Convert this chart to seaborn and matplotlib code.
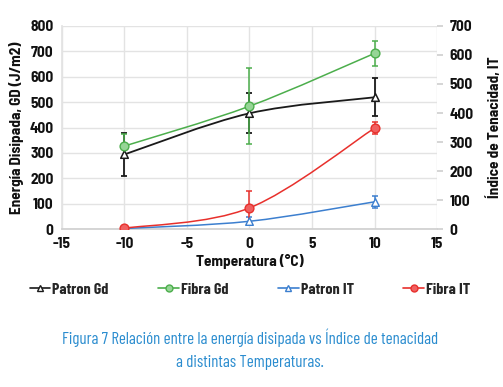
import numpy as np
import pandas as pd
import matplotlib
matplotlib.use('Agg')
import matplotlib.pyplot as plt
import seaborn as sns
from matplotlib.lines import Line2D
from matplotlib.path import Path
from matplotlib.patches import PathPatch

# Datos
temperatura = [-10, 0, 10]
patron_gd = [294, 456, 519]
patron_gd_err = [83, 78, 75]
fibra_gd = [327, 484, 692]
fibra_gd_err = [46, 150, 50]
patron_it = [2, 27, 94]
patron_it_err = [2, 14, 20]
fibra_it = [3, 73, 348]
fibra_it_err = [2, 60, 22]

x_ticks = [-15, -10, -5, 0, 5, 10, 15]

sns.set_theme(style='whitegrid')
narrow = ['Barlow Semi Condensed', 'Archivo Narrow', 'Liberation Sans', 'DejaVu Sans']
condensed = ['Barlow Condensed', 'Archivo Narrow', 'Liberation Sans', 'DejaVu Sans']
plt.rcParams['font.family'] = narrow

fig = plt.figure(figsize=(5.03, 3.87), dpi=100)
ax = fig.add_axes([0.123, 0.408, 0.746, 0.525])
ax2 = ax.twinx()

grid_c = '#e3e3e3'
c_black = '#1a1a1a'
c_green = '#4cae4c'
c_green_f = '#96d596'
c_blue = '#3c7fcf'
c_red = '#e8302c'
c_red_f = '#f06060'


def linea_suave(axis, xs, ys, color, lw):
    # linea suavizada tipo Excel (curvas de Bezier entre los puntos)
    pts = np.column_stack([xs, ys]).astype(float)
    n = len(pts)
    verts = [pts[0]]
    codes = [Path.MOVETO]
    for i in range(n - 1):
        p_prev = pts[max(i - 1, 0)]
        p_next = pts[min(i + 2, n - 1)]
        c1 = pts[i] + (pts[i + 1] - p_prev) / 6
        c2 = pts[i + 1] - (p_next - pts[i]) / 6
        verts += [c1, c2, pts[i + 1]]
        codes += [Path.CURVE4] * 3
    axis.add_patch(PathPatch(Path(verts, codes), fill=False, edgecolor=color,
                             lw=lw, zorder=3))


df_gd = pd.DataFrame({'T': temperatura, 'patron': patron_gd, 'fibra': fibra_gd})
df_it = pd.DataFrame({'T': temperatura, 'patron': patron_it, 'fibra': fibra_it})

# Energía disipada (eje izquierdo)
linea_suave(ax, temperatura, patron_gd, c_black, 1.3)
ax.errorbar(temperatura, patron_gd, yerr=patron_gd_err, fmt='none',
            ecolor=c_black, elinewidth=1.3, capsize=2.5, capthick=1.3, zorder=3)
sns.scatterplot(data=df_gd, x='T', y='patron', ax=ax, marker='^', s=30,
                color='white', edgecolor=c_black, linewidth=1.1, zorder=4)
linea_suave(ax, temperatura, fibra_gd, c_green, 1.1)
ax.errorbar(temperatura, fibra_gd, yerr=fibra_gd_err, fmt='none',
            ecolor=c_green, elinewidth=1.1, capsize=2.5, capthick=1.1, zorder=3)
sns.scatterplot(data=df_gd, x='T', y='fibra', ax=ax, marker='o', s=40,
                color=c_green_f, edgecolor=c_green, linewidth=1, zorder=4)

# Índice de tenacidad (eje derecho)
linea_suave(ax2, temperatura, patron_it, c_blue, 1.1)
ax2.errorbar(temperatura, patron_it, yerr=patron_it_err, fmt='none',
             ecolor=c_blue, elinewidth=1.1, capsize=2.5, capthick=1.1, zorder=3)
sns.scatterplot(data=df_it, x='T', y='patron', ax=ax2, marker='^', s=30,
                color='white', edgecolor=c_blue, linewidth=1, zorder=4)
linea_suave(ax2, temperatura, fibra_it, c_red, 1.1)
ax2.errorbar(temperatura, fibra_it, yerr=fibra_it_err, fmt='none',
             ecolor=c_red, elinewidth=1.1, capsize=2.5, capthick=1.1, zorder=3)
sns.scatterplot(data=df_it, x='T', y='fibra', ax=ax2, marker='o', s=40,
                color=c_red_f, edgecolor=c_red, linewidth=1, zorder=4)

ax.set_xlim(-15, 15)
ax.set_xticks(x_ticks)
ax.set_ylim(0, 800)
ax.set_yticks(range(0, 801, 100))
ax2.set_ylim(0, 700)
ax2.set_yticks(range(0, 701, 100))
ax2.grid(False)

ax.grid(True, color=grid_c, lw=1)
for a in (ax, ax2):
    for s in a.spines.values():
        s.set_visible(False)
ax.spines['bottom'].set_visible(True)
ax.spines['bottom'].set_color('#d0d0d0')
ax.spines['left'].set_visible(True)
ax.spines['left'].set_color(grid_c)

tick_font = dict(fontsize=11, fontweight='bold', color='#111111')
ax.tick_params(axis='both', length=0, pad=6)
ax.set_xticklabels([str(v) for v in x_ticks], **tick_font)
ax.set_yticklabels([str(v) for v in range(0, 801, 100)], **tick_font)
ax2.tick_params(axis='y', length=4, color='#d0d0d0', pad=5)
ax2.set_yticklabels([str(v) for v in range(0, 701, 100)], **tick_font)

lab_font = dict(fontsize=11, fontweight='bold', color='#111111')
ax.set_xlabel('Temperatura (°C)', labelpad=2, **lab_font)
ax.set_ylabel('Energía Disipada, GD (J/m2)', labelpad=4, **lab_font)
ax2.set_ylabel('Índice de Tenacidad, IT', labelpad=10, **lab_font)

handles = [
    Line2D([], [], color=c_black, lw=1.2, marker='^', markersize=4,
           markerfacecolor='white', markeredgecolor=c_black),
    Line2D([], [], color=c_green, lw=1.2, marker='o', markersize=5,
           markerfacecolor=c_green_f, markeredgecolor=c_green),
    Line2D([], [], color=c_blue, lw=1.2, marker='^', markersize=4,
           markerfacecolor='white', markeredgecolor=c_blue),
    Line2D([], [], color=c_red, lw=1.2, marker='o', markersize=5,
           markerfacecolor=c_red_f, markeredgecolor=c_red),
]
labels = ['Patron Gd', 'Fibra Gd', 'Patron IT', 'Fibra IT']
fig.legend(handles, labels, loc='center', bbox_to_anchor=(0.497, 0.252), ncol=4,
           frameon=False, handlelength=1.3, handletextpad=0.12, columnspacing=3.1,
           prop=dict(family=condensed, size=11.5, weight='bold'))

cap_c = '#2a8ccf'
fig.text(0.497, 0.128, 'Figura 7 Relación entre la energía disipada vs Índice de tenacidad',
         ha='center', va='center', fontsize=12.2, color=cap_c, family=condensed)
fig.text(0.497, 0.063, 'a distintas Temperaturas.',
         ha='center', va='center', fontsize=12.2, color=cap_c, family=condensed)

fig.savefig('out.png', dpi=100, facecolor='white')
